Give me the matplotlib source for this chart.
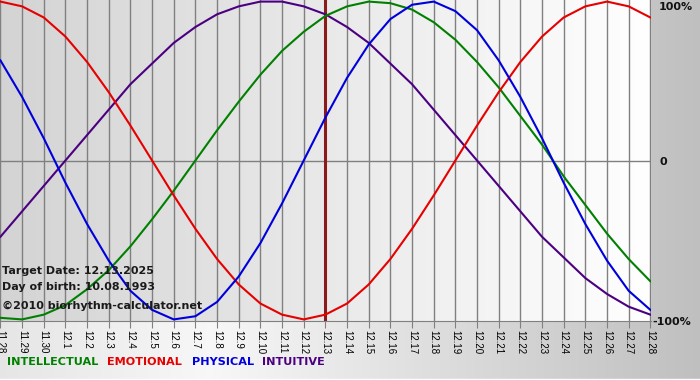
import matplotlib
matplotlib.use("Agg")
import matplotlib.pyplot as plt
import numpy as np

# ---- data ----
dates = ["11.28", "11.29", "11.30", "12.1", "12.2", "12.3", "12.4", "12.5", "12.6", "12.7",
         "12.8", "12.9", "12.10", "12.11", "12.12", "12.13", "12.14", "12.15", "12.16", "12.17",
         "12.18", "12.19", "12.20", "12.21", "12.22", "12.23", "12.24", "12.25", "12.26", "12.27",
         "12.28"]
physical = [0.63, 0.40, 0.14, -0.14, -0.40, -0.63, -0.82, -0.94, -1.00, -0.98,
            -0.89, -0.73, -0.52, -0.27, 0.00, 0.27, 0.52, 0.73, 0.89, 0.98,
            1.00, 0.94, 0.82, 0.63, 0.40, 0.14, -0.14, -0.40, -0.63, -0.82,
            -0.94]
emotional = [1.00, 0.97, 0.90, 0.78, 0.62, 0.43, 0.22, 0.00, -0.22, -0.43,
             -0.62, -0.78, -0.90, -0.97, -1.00, -0.97, -0.90, -0.78, -0.62, -0.43,
             -0.22, 0.00, 0.22, 0.43, 0.62, 0.78, 0.90, 0.97, 1.00, 0.97,
             0.90]
intellectual = [-0.99, -1.00, -0.97, -0.91, -0.81, -0.69, -0.54, -0.37, -0.19, 0.00,
                0.19, 0.37, 0.54, 0.69, 0.81, 0.91, 0.97, 1.00, 0.99, 0.95,
                0.87, 0.76, 0.62, 0.46, 0.28, 0.10, -0.10, -0.28, -0.46, -0.62,
                -0.76]
intuitive = [-0.48, -0.32, -0.16, 0.00, 0.16, 0.32, 0.48, 0.61, 0.74, 0.84,
             0.92, 0.97, 1.00, 1.00, 0.97, 0.92, 0.84, 0.74, 0.61, 0.48,
             0.32, 0.16, 0.00, -0.16, -0.32, -0.48, -0.61, -0.74, -0.84, -0.92,
             -0.97]
target_date = "12.13"
info_lines = ["Target Date: 12.13.2025", "Day of birth: 10.08.1993",
              "\u00a92010 biorhythm-calculator.net"]
y_labels = ["100%", "0", "-100%"]
legend_names = ["INTELLECTUAL", "EMOTIONAL", "PHYSICAL", "INTUITIVE"]

# ---- styles ----
C_INT = "#008000"
C_EMO = "#e60000"
C_PHY = "#0000dd"
C_ITU = "#4b0082"

W, H = 700, 380
fig = plt.figure(figsize=(W / 100, H / 100), dpi=100)

def fx(px):
    return px / W

def fy(py):
    return 1 - py / H

# figure background gradient
bg = fig.add_axes([0, 0, 1, 1], zorder=-10)
xs = np.linspace(0, 1, 400)
vals = np.interp(xs, [0, 0.3, 1.0], [0.90, 0.97, 0.75])
grad = np.tile(vals, (2, 1))
bg.imshow(np.dstack([grad, grad, grad]), aspect="auto", extent=[0, 1, 0, 1],
          interpolation="bilinear")
bg.axhspan(0, 1.5 / H, color="white")
bg.set_xlim(0, 1)
bg.set_ylim(0, 1)
bg.axis("off")

# main plot axes
ax = fig.add_axes([0, fy(321), fx(651), 321 / H])
x = np.arange(len(dates))
ax.set_xlim(-0.02, len(dates) - 1 + 0.03)
ax.set_ylim(-1.01, 1.01)

pg = np.linspace(0.83, 1.0, 400)
pgrad = np.tile(pg, (2, 1))
ax.imshow(np.dstack([pgrad, pgrad, pgrad]), aspect="auto",
          extent=[ax.get_xlim()[0], ax.get_xlim()[1], -1.01, 1.01],
          interpolation="bilinear", zorder=0)

for xi in x:
    ax.axvline(xi, color="#808080", lw=1.0, zorder=1)
ax.axhline(0, color="#808080", lw=1.0, zorder=1)

ti = dates.index(target_date)
ax.axvline(ti, color="#8b1a1a", lw=2.2, zorder=2)

ax.plot(x, intuitive, color=C_ITU, lw=1.5, zorder=3)
ax.plot(x, intellectual, color=C_INT, lw=1.5, zorder=3)
ax.plot(x, emotional, color=C_EMO, lw=1.5, zorder=3)
ax.plot(x, physical, color=C_PHY, lw=1.5, zorder=3)

for s in ["top", "left", "right"]:
    ax.spines[s].set_visible(False)
ax.spines["bottom"].set_color("#808080")
ax.set_yticks([])
ax.set_xticks(x)
ax.set_xticklabels(dates, rotation=-90, fontsize=7, family="Liberation Sans",
                   color="#000000")
ax.tick_params(axis="x", length=5, color="#808080", pad=1.5)

# info text inside plot
for i, (t, yy) in enumerate(zip(info_lines, [271, 287, 306])):
    fig.text(fx(2), fy(yy), t, fontsize=8, fontweight="bold", color="#1a1a1a",
             ha="left", va="center", zorder=5)

# right axis labels
for t, (px, py) in zip(y_labels, [(659, 7), (659, 162), (652, 322)]):
    fig.text(fx(px), fy(py), t, fontsize=8, fontweight="bold", color="#111111",
             ha="left", va="center")

# legend words
for t, c, px in zip(legend_names, [C_INT, C_EMO, C_PHY, C_ITU], [7, 107, 192, 262]):
    fig.text(fx(px), fy(362), t, fontsize=8.1, fontweight="bold", color=c,
             ha="left", va="center")

fig.savefig("out.png", dpi=100)
